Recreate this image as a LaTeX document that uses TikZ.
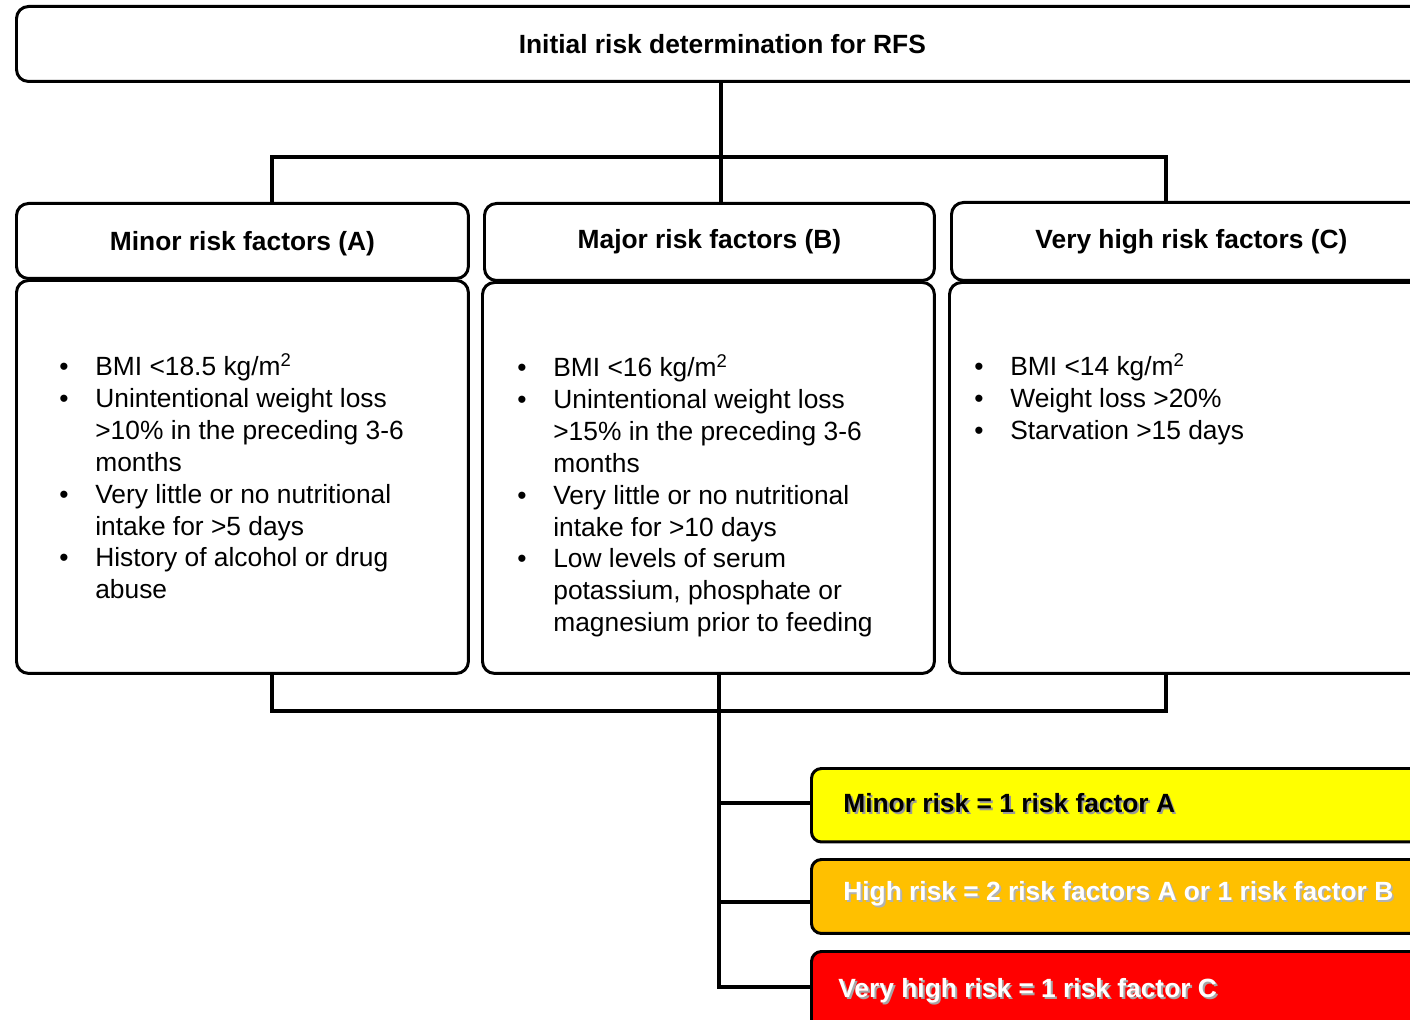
\documentclass[tikz,border=0pt]{standalone}
\usepackage{fontspec}
\setmainfont{Liberation Sans}
\definecolor{riskyellow}{HTML}{FFFF00}
\definecolor{riskorange}{HTML}{FFC000}
\definecolor{riskred}{HTML}{FF0000}
% text with a soft drop shadow
\newcommand{\shadowed}[2]{\makebox[0pt][l]{\hspace{1.1pt}\raisebox{-1.1pt}{\color{#1}#2}}#2}
\begin{document}
\begin{tikzpicture}[x=0.02cm,y=-0.02cm,
  box/.style={draw=black, line width=1.7pt, rounded corners=0.24cm, fill=white,
    inner sep=0pt, anchor=north west, font=\fontsize{15}{18}\selectfont\bfseries},
  riskbox/.style={draw=black, line width=1.7pt, rounded corners=0.2cm,
    inner sep=0pt, anchor=north west},
  risktext/.style={anchor=west, inner sep=0pt, font=\fontsize{15}{18}\selectfont\bfseries},
  listtext/.style={anchor=north west, inner sep=0pt, align=left,
    font=\fontsize{15}{18.14}\selectfont},
  wire/.style={line width=1.9pt}]
\useasboundingbox (0,0) rectangle (1410,1020);
\clip (0,0) rectangle (1410,1020);

% title box
\node[box, minimum width=28.24cm, minimum height=1.5cm] (top) at (15,5) {Initial risk determination for RFS};

% column headers
\node[box, minimum width=9.04cm, minimum height=1.5cm, text depth=0pt] (hA) at (15,202) {Minor risk factors (A)};
\node[box, minimum width=9.0cm, minimum height=1.54cm] (hB) at (483,202) {Major risk factors (B)};
\node[box, minimum width=9.6cm, minimum height=1.56cm] (hC) at (950,201) {Very high risk factors (C)};

% column bodies
\node[box, minimum width=9.04cm, minimum height=7.86cm] (bA) at (15,279) {};
\node[box, minimum width=9.04cm, minimum height=7.82cm] (bB) at (481,281) {};
\node[box, minimum width=9.7cm, minimum height=7.82cm] (bC) at (948,281) {};

\node[listtext] (lA) at (59,353) {\begin{tabular}{@{}p{0.72cm}@{}l@{}}
\textbullet & BMI <18.5 kg/m\textsuperscript{2}\\
\textbullet & Unintentional weight loss\\
 & >10\% in the preceding 3-6\\
 & months\\
\textbullet & Very little or no nutritional\\
 & intake for >5 days\\
\textbullet & History of alcohol or drug\\
 & abuse
\end{tabular}};

\node[listtext] (lB) at (517,354) {\begin{tabular}{@{}p{0.72cm}@{}l@{}}
\textbullet & BMI <16 kg/m\textsuperscript{2}\\
\textbullet & Unintentional weight loss\\
 & >15\% in the preceding 3-6\\
 & months\\
\textbullet & Very little or no nutritional\\
 & intake for >10 days\\
\textbullet & Low levels of serum\\
 & potassium, phosphate or\\
 & magnesium prior to feeding
\end{tabular}};

\node[listtext] (lC) at (974,353) {\begin{tabular}{@{}p{0.72cm}@{}l@{}}
\textbullet & BMI <14 kg/m\textsuperscript{2}\\
\textbullet & Weight loss >20\%\\
\textbullet & Starvation >15 days
\end{tabular}};

% risk level boxes
\node[riskbox, fill=riskyellow, minimum width=14cm, minimum height=1.47cm] (yel) at (810,767) {};
\node[riskbox, fill=riskorange, minimum width=14cm, minimum height=1.48cm] (org) at (810,858) {};
\node[riskbox, fill=riskred, minimum width=14cm, minimum height=1.6cm] (red) at (810,950) {};

\node[risktext, text=black] (yelT) at (843,804) {\shadowed{black!40}{Minor risk = 1 risk factor A}};
\node[risktext, text=white] (orgT) at (843,895) {\shadowed{black!30}{High risk = 2 risk factors A or 1 risk factor B}};
\node[risktext, text=white] (redT) at (838,992) {\shadowed{black!35}{Very high risk = 1 risk factor C}};

% upper tree
\coordinate (busL) at (272,157);
\coordinate (busM) at (721,157);
\coordinate (busR) at (1166,157);
\draw[wire] (top.south -| busM) -- (busM);
\draw[wire] (busL |- hA.north) -- (busL) -- (busR) -- (busR |- hC.north);
\draw[wire] (busM) -- (busM |- hB.north);

% lower tree
\coordinate (botL) at (272,711);
\coordinate (botM) at (719,711);
\coordinate (botR) at (1166,711);
\coordinate (yIn) at (810,803);
\coordinate (oIn) at (810,902);
\coordinate (rIn) at (810,987);
\draw[wire] (botL |- bA.south) -- (botL) -- (botR) -- (botR |- bC.south);
\draw[wire] (botM |- bB.south) -- (botM |- rIn) -- (rIn);
\draw[wire] (botM |- yIn) -- (yIn);
\draw[wire] (botM |- oIn) -- (oIn);
\end{tikzpicture}
\end{document}
